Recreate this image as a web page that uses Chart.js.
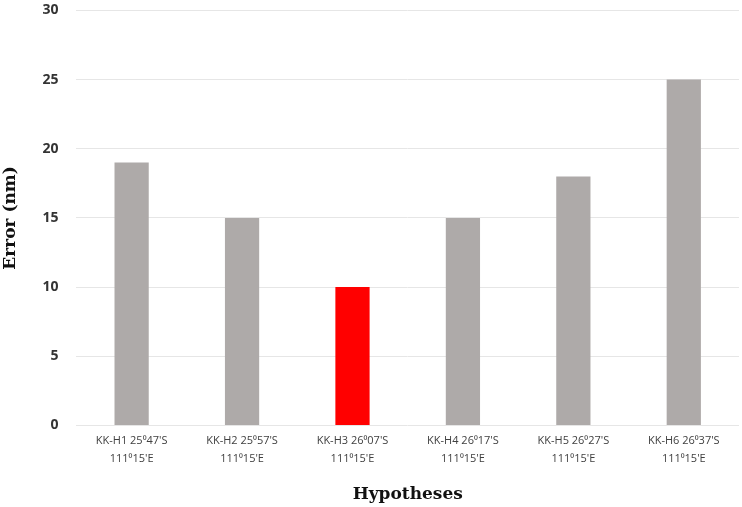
<!DOCTYPE html>
<html>
<head>
<meta charset="utf-8">
<script src="https://cdn.jsdelivr.net/npm/chart.js@4/dist/chart.umd.min.js"></script>
<style>
  html, body { margin: 0; padding: 0; background: #fff; }
  #wrap { width: 742px; height: 507px; overflow: hidden; }
  #myChart { display: block; margin-top: -16px; }
</style>
</head>
<body>
<div id="wrap"><canvas id="myChart" width="742" height="523"></canvas></div>
<script>
const categories = [
	["KK-H1 25⁰47'S", "111⁰15'E"],
	["KK-H2 25⁰57'S", "111⁰15'E"],
	["KK-H3 26⁰07'S", "111⁰15'E"],
	["KK-H4 26⁰17'S", "111⁰15'E"],
	["KK-H5 26⁰27'S", "111⁰15'E"],
	["KK-H6 26⁰37'S", "111⁰15'E"],
];
const errorValues = [19, 15, 10, 15, 18, 25];
const yTicks = [0, 5, 10, 15, 20, 25, 30];
const bestIndex = 2;

const ctx = document.getElementById("myChart").getContext("2d");

const barColors = errorValues.map((v, i) => (i === bestIndex ? "#ff0000" : "#aeaaa9"));

const myChart = new Chart(ctx, {
	type: "bar",
	data: {
		labels: categories,
		datasets: [
			{
				label: "Error (nm)",
				data: errorValues,
				backgroundColor: barColors,
				borderWidth: 0,
				categoryPercentage: 1,
				barPercentage: 0.31,
			},
		],
	},
	options: {
		responsive: false,
		animation: false,
		layout: { padding: { top: 0, right: 3, left: 0, bottom: 2 } },
		plugins: {
			legend: { display: false },
			tooltip: { enabled: false },
		},
		scales: {
			x: {
				grid: { display: false, drawTicks: false },
				border: { display: false },
				ticks: {
					color: "#404040",
					font: { family: "Open Sans", size: 11, lineHeight: 1.6 },
					maxRotation: 0,
					padding: 7,
				},
				title: {
					display: true,
					text: "Hypotheses",
					color: "#111",
					font: { family: "DejaVu Serif", size: 17, weight: "bold" },
					padding: { top: 10, bottom: 0 },
				},
			},
			y: {
				min: 0,
				max: 30,
				afterBuildTicks: (axis) => {
					axis.ticks = yTicks.map((v) => ({ value: v }));
				},
				grid: { color: "#e6e6e6", drawTicks: false },
				border: { display: false },
				ticks: {
					color: "#333",
					font: { family: "Open Sans", size: 14, weight: "bold" },
					padding: 18,
				},
				title: {
					display: true,
					text: "Error (nm)",
					color: "#111",
					font: { family: "DejaVu Serif", size: 17, weight: "bold" },
					padding: { top: 0, bottom: 4 },
				},
			},
		},
	},
});
</script>
</body>
</html>
